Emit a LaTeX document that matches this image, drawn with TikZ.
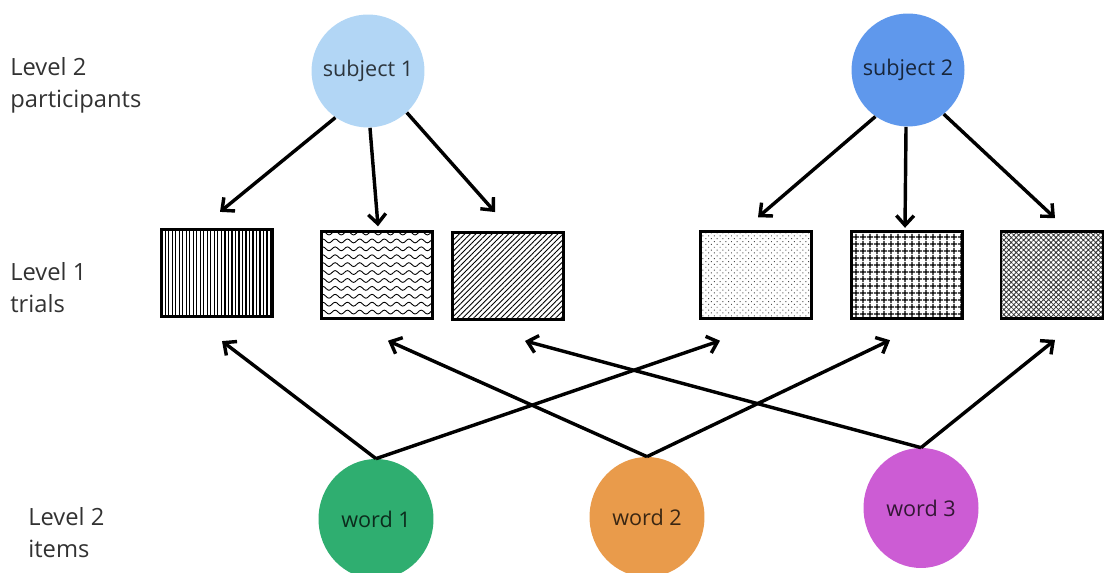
\documentclass[tikz,border=0pt]{standalone}
\usepackage{fontspec}
\setmainfont{Open Sans}
\usepackage{xcolor}
\usepackage{tikz}
\usetikzlibrary{patterns,patterns.meta,shapes.geometric,arrows.meta,calc,positioning}
\tikzset{>={Straight Barb[length=5.5pt,width=10pt]}}

\definecolor{subjA}{RGB}{178,214,245}
\definecolor{subjB}{RGB}{95,152,236}
\definecolor{wordA}{RGB}{47,174,112}
\definecolor{wordB}{RGB}{233,155,75}
\definecolor{wordC}{RGB}{204,92,212}
\definecolor{labelgray}{RGB}{50,50,50}

% wavy fill for the second trial box
\tikzdeclarepattern{
  name=waves,
  type=uncolored,
  bounding box={(-0.5pt,-2pt) and (7.5pt,2pt)},
  tile size={(7pt,4.5pt)},
  code={\draw[line width=0.5pt] (0,0) sin (1.75pt,1.1pt) cos (3.5pt,0) sin (5.25pt,-1.1pt) cos (7pt,0);}
}

\begin{document}
\begin{tikzpicture}[x=0.02cm, y=-0.02cm,
                          level/.style={anchor=base west, inner sep=0pt, align=left, text=labelgray,
                                        font=\fontsize{13.5}{18.7}\selectfont},
                          subj/.style={circle, minimum size=2.26cm, inner sep=0pt,
                                       text=black, text opacity=.75, font=\fontsize{12.3}{14}\selectfont},
                          item/.style={ellipse, minimum width=2.3cm, minimum height=2.4cm, inner sep=0pt,
                                       text=black, text opacity=.75, font=\fontsize{12.3}{14}\selectfont},
                          trial/.style={draw=black, line width=1.4pt, minimum width=2.22cm, minimum height=1.74cm, inner sep=0pt},
                          link/.style={->, line width=1.95pt, black},
                         ]

\clip (0,0) rectangle (1105,573);

% row labels (anchored on the second line)
\node[level] (lab3) at (10,108) {Level 2\\participants};
\node[level] (lab2) at (10,313) {Level 1\\trials};
\node[level] (lab1) at (28,558) {Level 2\\items};

% level 2: participants
\node[subj, fill=subjA] (s1) at (368,71) {subject 1};
\node[subj, fill=subjB] (s2) at (908,70) {subject 2};

% level 1: trials
\node[trial, pattern={Lines[angle=90,distance=2pt,line width=0.7pt]}] (t1) at (217,273) {};
\node[trial, pattern=waves] (t2) at (377,275) {};
\node[trial, pattern={Lines[angle=45,distance=2.2pt,line width=0.5pt]}] (t3) at (508,276) {};
\node[trial, pattern={Dots[angle=45,distance=2.3pt,radius=0.4pt]}, pattern color=black!70] (t4) at (756,275) {};
\node[trial, pattern={Hatch[angle=0,distance=4pt,line width=0.8pt]}] (t5) at (907,275) {};
\node[trial, minimum width=2.04cm, pattern={Hatch[angle=45,distance=2pt,line width=0.45pt]}, pattern color=black!80] (t6) at (1052,275) {};

% level 2: items
\node[item, fill=wordA] (w1) at (376,519) {word 1};
\node[item, fill=wordB] (w2) at (647,517) {word 2};
\node[item, fill=wordC] (w3) at (921,508) {word 3};

% participants -> trials
\draw[link] (s1.235) -- ($(t1.north)+(3,-17)$);
\draw[link] (s1.272) -- ($(t2.north)+(1,-4)$);
\draw[link] (s1.313) -- ($(t3.north)+(-13,-20)$);
\draw[link] (s2.235) -- ($(t4.north)+(2,-13)$);
\draw[link] (s2.268) -- ($(t5.north)+(-2,-3)$);
\draw[link] (s2.309) -- ($(t6.north)+(3,-13)$);

% items -> trials
\draw[link] (w1.north) -- ($(t1.south)+(5,24)$);
\draw[link] (w1.north) -- ($(t4.south)+(-36,21)$);
\draw[link] (w2.north) -- ($(t2.south)+(11,21)$);
\draw[link] (w2.north) -- ($(t5.south)+(-17,21)$);
\draw[link] (w3.north) -- ($(t3.south)+(17,21)$);
\draw[link] (w3.north) -- ($(t6.south)+(3,21)$);

\end{tikzpicture}
\end{document}
